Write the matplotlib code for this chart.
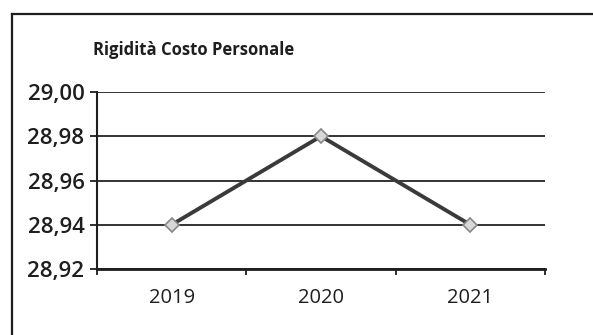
import matplotlib
matplotlib.use("Agg")
import matplotlib.pyplot as plt
from matplotlib.lines import Line2D

years = ["2019", "2020", "2021"]
values = [28.94, 28.98, 28.94]
y_ticks = [28.92, 28.94, 28.96, 28.98, 29.00]
y_labels = ["28,92", "28,94", "28,96", "28,98", "29,00"]

plt.rcParams["font.family"] = ["Open Sans", "DejaVu Sans"]
ink = "#1e1e1e"

fig = plt.figure(figsize=(5.93, 3.35), dpi=100)
fig.patch.set_facecolor("white")
ax = fig.add_axes([97 / 593, 1 - 269 / 335, 448 / 593, 177 / 335])

x = list(range(len(years)))
ax.plot(x, values, color="#3a3a3a", lw=2.8, zorder=3,
        marker="D", ms=7, mfc="#d8d8d8", mec="#888888", mew=1.2)

ax.set_xlim(-0.5, len(years) - 0.5)
ax.set_ylim(y_ticks[0], y_ticks[-1])
ax.set_yticks(y_ticks)
ax.set_yticklabels(y_labels)
ax.set_xticks(x)
ax.set_xticklabels(years)
ax.set_xticks([i - 0.5 for i in range(len(years) + 1)], minor=True)

ax.yaxis.grid(True, color="#333333", lw=1.4)
ax.set_axisbelow(True)
for side in ("top", "right"):
    ax.spines[side].set_visible(False)
ax.spines["left"].set_color(ink)
ax.spines["left"].set_linewidth(1.5)
ax.spines["bottom"].set_color(ink)
ax.spines["bottom"].set_linewidth(2.0)

ax.tick_params(axis="y", length=5, width=1.3, color=ink, labelsize=16,
               labelcolor=ink, pad=4)
ax.tick_params(axis="x", which="major", length=0, labelsize=14.5,
               labelcolor=ink, pad=14)
ax.tick_params(axis="x", which="minor", length=4, width=1.3, color=ink)
for lbl in ax.get_yticklabels():
    lbl.set_fontweight("semibold")

fig.text(93 / 593, 1 - 50 / 335, "Rigidità Costo Personale",
         fontsize=12, fontweight="bold", color=ink, va="center", ha="left")

# outer frame (left and top edges)
fig.add_artist(Line2D([12 / 593, 12 / 593], [0, 1 - 14 / 335],
                      color=ink, lw=1.6, transform=fig.transFigure))
fig.add_artist(Line2D([12 / 593, 1], [1 - 14 / 335, 1 - 14 / 335],
                      color=ink, lw=1.6, transform=fig.transFigure))

fig.savefig("out.png", dpi=100, facecolor="white")
